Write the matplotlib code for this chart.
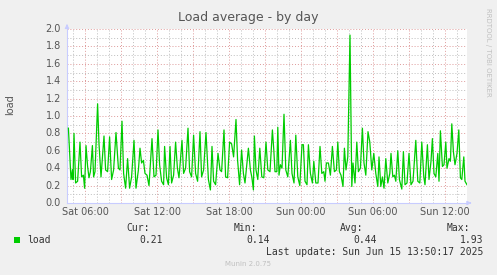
import matplotlib
matplotlib.use('Agg')
import matplotlib.pyplot as plt
from matplotlib.ticker import MultipleLocator, FixedLocator

# minutes since Sat 00:00 and load values
minutes = [277, 290, 297, 300, 305, 313, 323, 335, 343, 352, 358, 365, 373, 380, 387, 397, 403, 410,
           423, 430, 440, 455, 463, 473, 483, 493, 503, 515, 527, 535, 545, 553, 563, 573, 583, 593,
           605, 615, 627, 635, 643, 652, 660, 670, 680, 695, 705, 715, 725, 733, 743, 753, 758, 768,
           777, 785, 793, 803, 813, 822, 830, 845, 853, 863, 875, 883, 893, 903, 913, 923, 935, 943,
           953, 965, 977, 987, 995, 1003, 1013, 1025, 1035, 1043, 1055, 1063, 1073, 1083, 1093, 1103,
           1115, 1123, 1133, 1143, 1152, 1160, 1177, 1187, 1194, 1202, 1207, 1215, 1224, 1234, 1244,
           1254, 1265, 1274, 1285, 1297, 1304, 1310, 1319, 1324, 1330, 1337, 1345, 1355, 1364, 1374,
           1387, 1395, 1405, 1414, 1424, 1434, 1445, 1452, 1460, 1470, 1477, 1487, 1497, 1504, 1514,
           1525, 1535, 1544, 1554, 1560, 1567, 1577, 1587, 1597, 1607, 1617, 1624, 1632, 1640, 1650,
           1657, 1665, 1674, 1685, 1694, 1700, 1710, 1719, 1727, 1737, 1747, 1755, 1764, 1775, 1784,
           1794, 1804, 1814, 1824, 1830, 1839, 1847, 1855, 1864, 1874, 1884, 1890, 1899, 1907, 1914,
           1924, 1932, 1944, 1952, 1960, 1970, 1980, 1990, 2000, 2014, 2024, 2034, 2044, 2054, 2060,
           2072, 2080, 2090, 2097, 2105, 2114, 2124, 2130, 2137, 2147, 2155, 2164, 2170, 2180, 2187,
           2194, 2202, 2210, 2220, 2229, 2237, 2244, 2254, 2260, 2270]
load = [0.86, 0.27, 0.38, 0.27, 0.80, 0.23, 0.25, 0.70, 0.30, 0.32, 0.17, 0.66, 0.42, 0.29, 0.36, 0.66, 0.30, 0.36,
        1.14, 0.68, 0.30, 0.77, 0.38, 0.36, 0.76, 0.27, 0.38, 0.81, 0.40, 0.38, 0.94, 0.34, 0.17, 0.51, 0.17, 0.30,
        0.72, 0.17, 0.38, 0.63, 0.46, 0.49, 0.34, 0.32, 0.20, 0.74, 0.30, 0.32, 0.84, 0.44, 0.25, 0.21, 0.65, 0.29,
        0.21, 0.65, 0.23, 0.32, 0.70, 0.40, 0.29, 0.72, 0.34, 0.40, 0.86, 0.36, 0.30, 0.78, 0.34, 0.25, 0.82, 0.30,
        0.38, 0.81, 0.27, 0.15, 0.65, 0.25, 0.21, 0.57, 0.38, 0.36, 0.84, 0.30, 0.29, 0.70, 0.68, 0.53,
        0.96, 0.49, 0.21, 0.61, 0.34, 0.23, 0.63, 0.38, 0.30, 0.15, 0.77, 0.38, 0.27, 0.63, 0.30,
        0.29, 0.70, 0.38, 0.36, 0.84, 0.61, 0.36, 0.36, 0.87, 0.32, 0.44, 0.40, 1.02, 0.38, 0.30,
        0.72, 0.34, 0.23, 0.78, 0.30, 0.20, 0.67, 0.67, 0.25, 0.21, 0.67, 0.34, 0.23, 0.48, 0.23,
        0.23, 0.65, 0.34, 0.36, 0.25, 0.46, 0.46, 0.32, 0.65, 0.36, 0.38, 0.70, 0.36, 0.32, 0.19,
        0.63, 0.38, 0.53, 1.93, 0.19, 0.46, 0.23, 0.70, 0.36, 0.40, 0.86, 0.46, 0.32, 0.82, 0.70,
        0.38, 0.57, 0.34, 0.19, 0.53, 0.19, 0.30, 0.17, 0.51, 0.23, 0.34, 0.57, 0.30, 0.32, 0.25,
        0.60, 0.27, 0.16, 0.59, 0.21, 0.23, 0.57, 0.21, 0.25, 0.72, 0.25, 0.23, 0.70, 0.30, 0.21,
        0.67, 0.27, 0.48, 0.74, 0.34, 0.30, 0.57, 0.25, 0.83, 0.42, 0.44, 0.70, 0.40, 0.51, 0.48,
        0.91, 0.59, 0.44, 0.57, 0.84, 0.29, 0.27, 0.53, 0.25, 0.21]

tick_pos = [360, 720, 1080, 1440, 1800, 2160]
tick_labels = ['Sat 06:00', 'Sat 12:00', 'Sat 18:00', 'Sun 00:00', 'Sun 06:00', 'Sun 12:00']
stat_names = ['Cur:', 'Min:', 'Avg:', 'Max:']
stat_values = ['0.21', '0.14', '0.44', '1.93']

W, H = 497, 275
fig = plt.figure(figsize=(W / 100, H / 100), dpi=100)
fig.patch.set_facecolor('#F0F0F0')
ax = fig.add_axes([67 / W, 72 / H, 400 / W, 174 / H])
ax.set_facecolor('white')

ax.plot(minutes, load, color='#00CC00', lw=0.9, zorder=3)
ax.set_xlim(270, 2270)
ax.set_ylim(0, 2.0)

# grid: gray minor, red major
ax.xaxis.set_minor_locator(MultipleLocator(60))
ax.xaxis.set_major_locator(FixedLocator(list(range(360, 2271, 180))))
ax.yaxis.set_minor_locator(MultipleLocator(0.1))
ax.yaxis.set_major_locator(MultipleLocator(0.2))
ax.grid(which='minor', color='#BDBDBD', lw=0.7, ls=(0, (1, 2)))
ax.grid(which='major', color='#DE9A9A', lw=0.7, ls=(0, (1, 2)))
ax.set_axisbelow(True)
ax.tick_params(which='both', length=0, labelbottom=False, labelleft=False)

for s in ['top', 'right']:
    ax.spines[s].set_visible(False)
for s in ['left', 'bottom']:
    ax.spines[s].set_color('#C8CCFF')
    ax.spines[s].set_linewidth(0.8)

# y tick labels
for v in [i * 0.2 for i in range(11)]:
    ax.text(-0.015, v / 2.0, '%.1f' % v, transform=ax.transAxes, ha='right', va='center',
            fontsize=7, color='#555555')
for p, lab in zip(tick_pos, tick_labels):
    ax.text(p, -0.052, lab, transform=ax.get_xaxis_transform(), ha='center', va='center',
            fontsize=7, color='#555555')

# axis arrows
ax.annotate('', xy=(0, 1.045), xytext=(0, 1.0), xycoords='axes fraction',
            arrowprops=dict(arrowstyle='-|>', color='#C8CCFF', lw=0.8, mutation_scale=6), annotation_clip=False)
ax.annotate('', xy=(1.018, 0), xytext=(1.0, 0), xycoords='axes fraction',
            arrowprops=dict(arrowstyle='-|>', color='#C8CCFF', lw=0.8, mutation_scale=6), annotation_clip=False)

fig.text(248 / W, 1 - 18 / H, 'Load average - by day', ha='center', va='center', fontsize=9, color='#555555')
fig.text(10 / W, 1 - 105 / H, 'load', rotation=90, ha='center', va='center', fontsize=7, color='#555555')
fig.text(488 / W, 1 - 52 / H, 'RRDTOOL / TOBI OETIKER', rotation=270, ha='center', va='center',
         fontsize=5, color='#C0C0C0')

# legend
mono = 'DejaVu Sans Mono'
fig.patches.append(plt.Rectangle((14 / W, 1 - 243 / H), 6 / W, 6 / H, transform=fig.transFigure,
                                 facecolor='#00CC00', edgecolor='none'))
fig.text(27 / W, 1 - 240 / H, 'load', family=mono, fontsize=7, color='#333333', va='center')
for i, (n, v) in enumerate(zip(stat_names, stat_values)):
    right = 163 + i * 106.7
    fig.text((right - 13) / W, 1 - 228 / H, n, family=mono, fontsize=7, color='#333333',
             ha='right', va='center')
    fig.text(right / W, 1 - 240 / H, v, family=mono, fontsize=7, color='#333333',
             ha='right', va='center')
fig.text(483 / W, 1 - 252 / H, 'Last update: Sun Jun 15 13:50:17 2025', family=mono, fontsize=7,
         color='#333333', ha='right', va='center')
fig.text(248 / W, 1 - 264 / H, 'Munin 2.0.75', fontsize=5, color='#C0C0C0', ha='center', va='center')

fig.savefig('out.png', dpi=100, facecolor=fig.get_facecolor())
